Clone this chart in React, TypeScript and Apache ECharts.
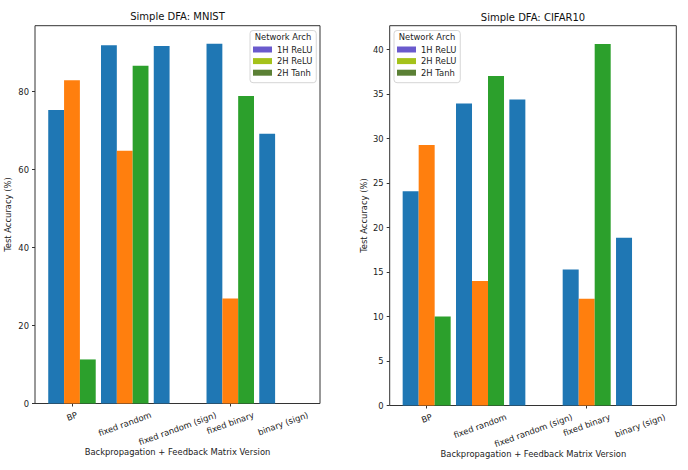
import { useEffect, useRef } from 'react'
import * as echarts from 'echarts'

const CATEGORIES = ['BP', 'fixed random', 'fixed random (sign)', 'fixed binary', 'binary (sign)']
const ARCHS = ['1H ReLU', '2H ReLU', '2H Tanh']

// MNIST test accuracy (%)
const MNIST_1H_RELU = [75.3, 91.9, 91.7, 92.3, 69.2]
const MNIST_2H_RELU = [82.9, 64.8, 0, 26.9, 0]
const MNIST_2H_TANH = [11.3, 86.6, 0, 78.9, 0]
const MNIST_TICKS = [0, 20, 40, 60, 80]
const MNIST_MAX = 96.9

// CIFAR10 test accuracy (%)
const CIFAR_1H_RELU = [24.1, 33.95, 34.4, 15.3, 18.85]
const CIFAR_2H_RELU = [29.3, 14.0, 0, 12.0, 0]
const CIFAR_2H_TANH = [10.0, 37.05, 0, 40.65, 0]
const CIFAR_TICKS = [0, 5, 10, 15, 20, 25, 30, 35, 40]
const CIFAR_MAX = 42.7

const BAR_COLORS = ['#1f77b4', '#ff7f0e', '#2ca02c']
const LEGEND_COLORS = ['#6a5acd', '#a4c21a', '#5b8035']

const FONT = '"DejaVu Sans", sans-serif'
const FS = 8.4
const TEXT = '#222'
const AXIS = '#333'
const ROT = 20

function textWidth(text: string) {
  const ctx = document.createElement('canvas').getContext('2d')!
  ctx.font = `${FS}px ${FONT}`
  return ctx.measureText(text).width
}

interface Panel {
  frame: { left: number; top: number; width: number; height: number }
  dataLeft: number
  dataWidth: number
  max: number
  ticks: number[]
  values: number[][]
  title: string
  titleY: number
  legendLeft: number
  legendTitleX: number
  yNameGap: number
}

const PANELS: Panel[] = [
  {
    frame: { left: 35, top: 25.7, width: 285, height: 377.8 },
    dataLeft: 45.6,
    dataWidth: 263.8,
    max: MNIST_MAX,
    ticks: MNIST_TICKS,
    values: [MNIST_1H_RELU, MNIST_2H_RELU, MNIST_2H_TANH],
    title: 'Simple DFA: MNIST',
    titleY: 16.5,
    legendLeft: 250,
    legendTitleX: 283,
    yNameGap: 23,
  },
  {
    frame: { left: 389.7, top: 25.7, width: 286.6, height: 379.8 },
    dataLeft: 400,
    dataWidth: 266.7,
    max: CIFAR_MAX,
    ticks: CIFAR_TICKS,
    values: [CIFAR_1H_RELU, CIFAR_2H_RELU, CIFAR_2H_TANH],
    title: 'Simple DFA: CIFAR10',
    titleY: 17,
    legendLeft: 394,
    legendTitleX: 427,
    yNameGap: 22,
  },
]

export default function App() {
  const chartRef = useRef<HTMLDivElement>(null)

  useEffect(() => {
    if (!chartRef.current) return
    const chart = echarts.init(chartRef.current, undefined, { renderer: 'svg' })

    const grid: any[] = []
    const xAxis: any[] = []
    const yAxis: any[] = []
    const series: any[] = []
    const legend: any[] = []

    PANELS.forEach((p, pi) => {
      const frameIdx = pi * 2
      const dataIdx = pi * 2 + 1
      grid.push({
        ...p.frame,
        show: true,
        borderColor: AXIS,
        borderWidth: 1,
        backgroundColor: 'transparent',
        outerBoundsMode: 'none',
      })
      grid.push({
        left: p.dataLeft,
        top: p.frame.top,
        width: p.dataWidth,
        height: p.frame.height,
        outerBoundsMode: 'none',
      })
      xAxis.push({ type: 'value', gridIndex: frameIdx, show: false, min: 0, max: 1 })
      yAxis.push({ type: 'value', gridIndex: frameIdx, show: false, min: 0, max: 1 })
      xAxis.push({
        type: 'category',
        gridIndex: dataIdx,
        data: CATEGORIES,
        axisLine: { show: false },
        axisTick: { show: true, alignWithLabel: true, length: 3, lineStyle: { color: AXIS } },
        axisLabel: { show: false },
        name: 'Backpropagation + Feedback Matrix Version',
        nameLocation: 'middle',
        nameGap: 44.5,
        nameMoveOverlap: false,
        nameTextStyle: { fontSize: FS, fontFamily: FONT, color: TEXT },
      })
      yAxis.push({
        type: 'value',
        gridIndex: dataIdx,
        min: 0,
        max: p.max,
        offset: p.dataLeft - p.frame.left,
        axisLine: { show: false },
        splitLine: { show: false },
        axisTick: { show: true, length: 3, customValues: p.ticks, lineStyle: { color: AXIS } },
        axisLabel: {
          customValues: p.ticks,
          margin: 6,
          fontSize: FS,
          fontFamily: FONT,
          color: TEXT,
        },
        name: 'Test Accuracy (%)',
        nameLocation: 'middle',
        nameGap: p.yNameGap,
        nameMoveOverlap: false,
        nameTextStyle: { fontSize: FS, fontFamily: FONT, color: TEXT },
      })
      ARCHS.forEach((a, i) => {
        series.push({
          name: a,
          type: 'bar',
          xAxisIndex: dataIdx,
          yAxisIndex: dataIdx,
          data: p.values[i],
          barGap: '0%',
          barCategoryGap: '10%',
          itemStyle: { color: BAR_COLORS[i] },
        })
      })
      legend.push({
        orient: 'vertical',
        left: p.legendLeft,
        top: 30.5,
        padding: [15, 4, 6, 3],
        itemWidth: 19,
        itemHeight: 6,
        itemGap: 3.6,
        selectedMode: false,
        backgroundColor: 'rgba(255,255,255,0.85)',
        borderColor: '#d6d6d6',
        borderWidth: 1,
        borderRadius: 3,
        textStyle: { fontSize: FS, fontFamily: FONT, color: TEXT },
        data: ARCHS.map((a, i) => ({ name: a, icon: 'rect', itemStyle: { color: LEGEND_COLORS[i] } })),
      })
    })

    chart.setOption({ animation: false, grid, xAxis, yAxis, series, legend })

    // titles, legend titles and matplotlib-style rotated tick labels (centred under each tick)
    const graphic: any[] = []
    const r = (ROT * Math.PI) / 180
    PANELS.forEach((p, pi) => {
      const dataIdx = pi * 2 + 1
      graphic.push({
        type: 'text',
        x: p.frame.left + p.frame.width / 2,
        y: p.titleY,
        z: 100,
        style: { text: p.title, align: 'center', verticalAlign: 'middle', font: `10px ${FONT}`, fill: '#111' },
      })
      graphic.push({
        type: 'text',
        x: p.legendTitleX,
        y: 37,
        z: 100,
        style: { text: 'Network Arch', align: 'center', verticalAlign: 'middle', font: `${FS}px ${FONT}`, fill: TEXT },
      })
      CATEGORIES.forEach((c, ci) => {
        const [px, py] = chart.convertToPixel({ xAxisIndex: dataIdx, yAxisIndex: dataIdx }, [ci, 0]) as number[]
        const w = textWidth(c)
        const h = w * Math.sin(r) + 9.5 * Math.cos(r)
        graphic.push({
          type: 'text',
          x: px,
          y: py + 6.5 + h / 2,
          rotation: r,
          z: 100,
          style: { text: c, align: 'center', verticalAlign: 'middle', font: `${FS}px ${FONT}`, fill: TEXT },
        })
      })
    })
    chart.setOption({ graphic })

    return () => {
      chart.dispose()
    }
  }, [])

  return (
    <div
      ref={chartRef}
      style={{ position: 'fixed', left: 0, top: 0, width: 688, height: 470, background: '#fff' }}
    />
  )
}
